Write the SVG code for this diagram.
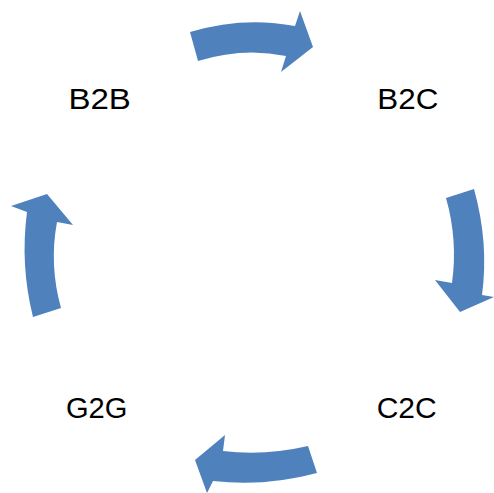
<svg xmlns="http://www.w3.org/2000/svg" width="494" height="493" viewBox="0 0 494 493">
<style>
.arr{fill:#4F81BD;stroke:none}
.lbl{font-family:"Liberation Sans",Arial,sans-serif;font-size:30px;fill:#000;text-anchor:middle}
</style>
<rect width="494" height="493" fill="#fff"/>
<g id="connectors">
<path class="arr" d="M190,32 Q243,16 295,26 L300,11 L313,47 L281,72 L286,56 Q243,47 198,61 Z"/>
<path class="arr" d="M474,189 Q489,243 482,295 L494,297 L460,312 L435,280 L452,283 Q458,240 446,198 Z"/>
<path class="arr" d="M308,446 Q265,456 223,451 L225,435 L195,460 L207,493 L213,481 Q265,487 317,473 Z"/>
<path class="arr" d="M33,317 Q20,265 27,212 L11,206 L47,194 L73,225 L57,222 Q49,265 61,308 Z"/>
</g>
<g id="node-b2b"><text class="lbl" x="99.7" y="109" textLength="62.5" lengthAdjust="spacingAndGlyphs">B2B</text></g>
<g id="node-b2c"><text class="lbl" x="407.8" y="109" textLength="61" lengthAdjust="spacingAndGlyphs">B2C</text></g>
<g id="node-c2c"><text class="lbl" x="406.7" y="418" textLength="60" lengthAdjust="spacingAndGlyphs">C2C</text></g>
<g id="node-g2g"><text class="lbl" x="96.7" y="418" textLength="61.5" lengthAdjust="spacingAndGlyphs">G2G</text></g>
</svg>
